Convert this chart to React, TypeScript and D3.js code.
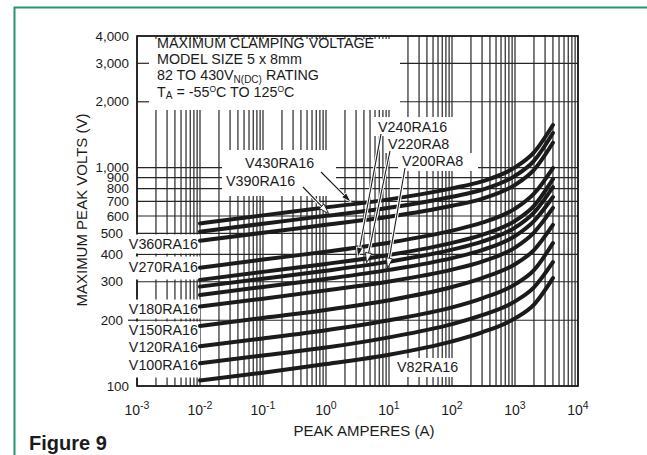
import React from "react";
import * as d3 from "d3";

// ---- data ----
const currents = [0.01, 0.1, 1, 10, 100, 300, 1000, 2000, 4000];
const seriesNames = [
  "V430RA16", "V390RA16", "V360RA16", "V270RA16", "V240RA16", "V220RA8",
  "V200RA8", "V180RA16", "V150RA16", "V120RA16", "V100RA16", "V82RA16",
];
const v430 = [555, 604, 657, 715, 803, 864, 1001, 1173, 1565];
const v390 = [508, 553, 601, 654, 735, 791, 916, 1073, 1439];
const v360 = [462, 503, 547, 595, 668, 719, 833, 976, 1299];
const v270 = [348, 379, 412, 453, 514, 559, 648, 759, 995];
const v240 = [306, 333, 362, 398, 452, 492, 570, 668, 885];
const v220 = [285, 310, 337, 371, 421, 458, 531, 622, 814];
const v200 = [261, 284, 309, 340, 385, 419, 486, 569, 733];
const v180 = [231, 251, 274, 301, 341, 371, 430, 504, 653];
const v150 = [188, 205, 223, 247, 284, 312, 361, 419, 546];
const v120 = [152, 165, 180, 200, 229, 252, 292, 339, 451];
const v100 = [127, 138, 150, 167, 192, 211, 244, 283, 369];
const v82 = [106, 115, 126, 139, 160, 176, 204, 236, 312];
const seriesValues = [v430, v390, v360, v270, v240, v220, v200, v180, v150, v120, v100, v82];

const yTickValues = [100, 200, 300, 400, 500, 600, 700, 800, 900, 1000, 2000, 3000, 4000];
const yTickLabels = ["100", "200", "300", "400", "500", "600", "700", "800", "900", "1,000", "2,000", "3,000", "4,000"];
const xTickExponents = [-3, -2, -1, 0, 1, 2, 3, 4];

const titleLines = ["MAXIMUM CLAMPING VOLTAGE", "MODEL SIZE 5 x 8mm"];

// ---- layout ----
const W = 647, H = 455;
const L = 137, R = 578, T = 36, B = 386;
const FONT = "'Liberation Sans', Arial, Helvetica, sans-serif";
const INK = "#1b1b1b";
const GRID = "#262626";

const xScale = d3.scaleLog().domain([1e-3, 1e4]).range([L, R]);
const yScale = d3.scaleLog().domain([100, 4000]).range([B, T]);

// white knockout boxes [x0,y0,x1,y1]
const boxes: [number, number, number, number][] = [
  [138, 37, 400, 110],
  [222, 150, 336, 196],
  [374, 117, 456, 136],
  [384, 136, 458, 153],
  [398, 153, 478, 171],
  [393, 358, 463, 377],
  [124, 234.5, 200, 253.5],
  [124, 256.5, 200, 279.5],
  [124, 299.5, 200, 318.5],
  [124, 321.5, 200, 377.5],
];

// curve labels: name, x, baseline y, anchor
const labels: { name: string; x: number; y: number; anchor: "start" | "end" }[] = [
  { name: "V430RA16", x: 245, y: 168, anchor: "start" },
  { name: "V390RA16", x: 226, y: 186, anchor: "start" },
  { name: "V240RA16", x: 378, y: 132, anchor: "start" },
  { name: "V220RA8", x: 388, y: 149, anchor: "start" },
  { name: "V200RA8", x: 402, y: 166, anchor: "start" },
  { name: "V82RA16", x: 397, y: 372, anchor: "start" },
  { name: "V360RA16", x: 198, y: 249, anchor: "end" },
  { name: "V270RA16", x: 198, y: 272, anchor: "end" },
  { name: "V180RA16", x: 198, y: 314, anchor: "end" },
  { name: "V150RA16", x: 198, y: 335, anchor: "end" },
  { name: "V120RA16", x: 198, y: 352, anchor: "end" },
  { name: "V100RA16", x: 198, y: 370, anchor: "end" },
];

// leader arrows: from label to a point on the named curve at a given current
const arrows: { name: string; from: [number, number]; current: number; head: string }[] = [
  { name: "V430RA16", from: [321, 172], current: 2.5, head: INK },
  { name: "V390RA16", from: [303, 187], current: 1.1, head: "#fff" },
  { name: "V240RA16", from: [381, 134], current: 3.2, head: INK },
  { name: "V220RA8", from: [390, 151], current: 4.4, head: "#fff" },
  { name: "V200RA8", from: [405, 168], current: 9.5, head: "#fff" },
];

function valueAt(vals: number[], c: number) {
  const lc = Math.log10(c);
  for (let i = 0; i < currents.length - 1; i++) {
    const a = Math.log10(currents[i]), b = Math.log10(currents[i + 1]);
    if (lc >= a && lc <= b) {
      const t = (lc - a) / (b - a);
      return Math.pow(10, Math.log10(vals[i]) * (1 - t) + Math.log10(vals[i + 1]) * t);
    }
  }
  return vals[vals.length - 1];
}

export default function App() {
  React.useEffect(() => {
    document.body.style.margin = "0";
  }, []);

  const vGrid: number[] = [];
  for (let k = -3; k < 4; k++) for (let m = 1; m <= 9; m++) vGrid.push(m * Math.pow(10, k));
  vGrid.push(1e4);

  const line = d3
    .line<[number, number]>()
    .x((d) => xScale(d[0]))
    .y((d) => yScale(d[1]))
    .curve(d3.curveMonotoneX);

  return (
    <svg width={W} height={H} style={{ position: "absolute", left: 0, top: 0, background: "#fff" }} fontFamily={FONT}>
      <rect x={0} y={0} width={W} height={H} fill="#fff" />
      {/* green frame */}
      <path d={`M14.5,${H} L14.5,7.5 L${W},7.5`} fill="none" stroke="#22976c" strokeWidth={2} />

      {/* grid */}
      {vGrid.map((v, i) => (
        <line key={"v" + i} x1={xScale(v)} x2={xScale(v)} y1={T} y2={B} stroke={GRID} strokeWidth={1.2} />
      ))}
      {yTickValues.map((v, i) => (
        <line key={"h" + i} x1={L} x2={R} y1={yScale(v)} y2={yScale(v)} stroke={GRID} strokeWidth={1.2} />
      ))}
      <rect x={L} y={T} width={R - L} height={B - T} fill="none" stroke={INK} strokeWidth={1.7} />

      {/* knockouts */}
      {boxes.map((b, i) => (
        <rect key={"b" + i} x={b[0]} y={b[1]} width={b[2] - b[0]} height={b[3] - b[1]} fill="#fff" />
      ))}
      {/* small ticks on top edge inside the title box */}
      {vGrid
        .filter((v) => xScale(v) > L + 1 && xScale(v) < 400)
        .map((v, i) => (
          <line key={"tt" + i} x1={xScale(v)} x2={xScale(v)} y1={T} y2={T + 3} stroke={GRID} strokeWidth={1.1} />
        ))}
      {[2000, 3000].map((v) => (
        <line key={"lt" + v} x1={L} x2={L + 12} y1={yScale(v)} y2={yScale(v)} stroke={GRID} strokeWidth={1.2} />
      ))}
      <line x1={128} x2={L} y1={yScale(200)} y2={yScale(200)} stroke={GRID} strokeWidth={1.2} />

      {/* curves */}
      {seriesValues.map((vals, i) => (
        <path
          key={seriesNames[i]}
          d={line(currents.map((c, j) => [c, vals[j]] as [number, number])) || ""}
          fill="none"
          stroke={INK}
          strokeWidth={4}
          strokeLinecap="round"
        />
      ))}

      {/* leader arrows */}
      {arrows.map((a) => {
        const vals = seriesValues[seriesNames.indexOf(a.name)];
        const tx = xScale(a.current);
        const ty = yScale(valueAt(vals, a.current)) - 2;
        const [fx, fy] = a.from;
        const ang = Math.atan2(ty - fy, tx - fx);
        const len = 10, wid = 3.2;
        const bx = tx - len * Math.cos(ang), by = ty - len * Math.sin(ang);
        const px = -Math.sin(ang) * wid, py = Math.cos(ang) * wid;
        return (
          <g key={"a" + a.name}>
            <line x1={fx} y1={fy} x2={bx} y2={by} stroke="#fff" strokeWidth={3.2} />
            <line x1={fx} y1={fy} x2={bx} y2={by} stroke={INK} strokeWidth={1.1} />
            <path
              d={`M${tx},${ty} L${bx + px},${by + py} L${bx - px},${by - py} Z`}
              fill={a.head}
              stroke={a.head === "#fff" ? INK : "#fff"}
              strokeWidth={0.9}
            />
          </g>
        );
      })}

      {/* curve labels */}
      {labels.map((l) => (
        <text key={"l" + l.name} x={l.x} y={l.y} fontSize={14.3} fill={INK} textAnchor={l.anchor}>
          {l.name}
        </text>
      ))}

      {/* title block */}
      <g fontSize={14.3} fill={INK}>
        <text x={157} y={48}>{titleLines[0]}</text>
        <text x={157} y={64}>{titleLines[1]}</text>
        <text x={157} y={80}>
          82 TO 430V<tspan fontSize={10} dy={3}>N(DC)</tspan>
          <tspan dy={-3}> RATING</tspan>
        </text>
        <text x={157} y={96.5}>
          T<tspan fontSize={10} dy={2.5}>A</tspan>
          <tspan dy={-2.5}> = -55</tspan>
          <tspan fontSize={8.5} dy={-5}>O</tspan>
          <tspan dy={5}>C TO 125</tspan>
          <tspan fontSize={8.5} dy={-5}>O</tspan>
          <tspan dy={5}>C</tspan>
        </text>
      </g>

      {/* y tick labels */}
      {yTickValues.map((v, i) => {
        const shifted = v >= 200 && v <= 500;
        return (
          <text
            key={"yt" + v}
            x={shifted ? 123 : 129}
            y={yScale(v) + 4.6}
            fontSize={13.4}
            fill={INK}
            textAnchor="end"
          >
            {yTickLabels[i]}
          </text>
        );
      })}

      {/* x tick labels */}
      {xTickExponents.map((e) => (
        <text key={"xt" + e} x={xScale(Math.pow(10, e))} y={415} fontSize={14} fill={INK} textAnchor="middle">
          10<tspan fontSize={10.5} dy={-6}>{String(e)}</tspan>
        </text>
      ))}

      <text x={364} y={436} fontSize={15} fill={INK} textAnchor="middle">PEAK AMPERES (A)</text>
      <text transform="translate(87,210) rotate(-90)" fontSize={15} fill={INK} textAnchor="middle">
        MAXIMUM PEAK VOLTS (V)
      </text>
      <text x={29} y={450} fontSize={20} fontWeight="bold" fill={INK}>Figure 9</text>
    </svg>
  );
}
